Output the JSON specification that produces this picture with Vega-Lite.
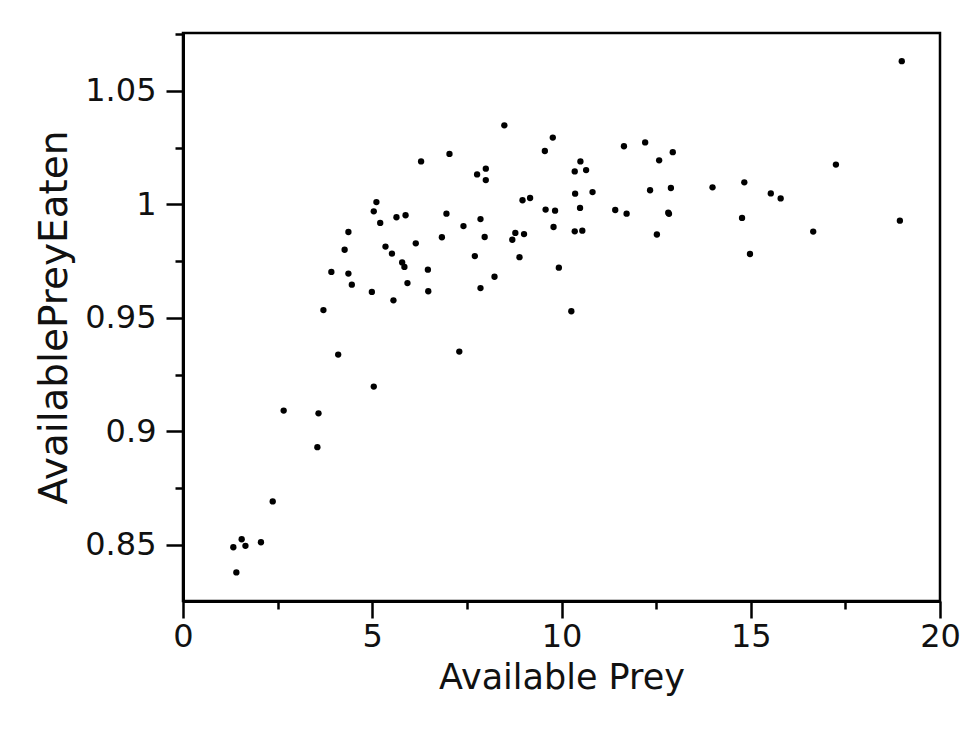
{
  "$schema": "https://vega.github.io/schema/vega-lite/v6.json",
  "autosize": "none",
  "width": 757,
  "height": 568,
  "padding": {"left": 183, "top": 33, "right": 27, "bottom": 129},
  "background": "white",
  "config": {
    "view": {"stroke": "black", "strokeWidth": 2.5},
    "font": "DejaVu Sans",
    "axis": {
      "domainColor": "black",
      "domainWidth": 3,
      "tickColor": "black",
      "tickWidth": 2.5,
      "labelColor": "#111111",
      "titleColor": "#111111",
      "labelFont": "DejaVu Sans",
      "titleFont": "DejaVu Sans",
      "labelFontSize": 32,
      "titleFontSize": 35,
      "titleFontWeight": "normal",
      "grid": false,
      "labelOverlap": false,
      "labelFlush": false
    }
  },
  "data": {
    "values": [
      {"prey": 8.49, "eaten": 1.0348},
      {"prey": 9.77, "eaten": 1.0294},
      {"prey": 9.56, "eaten": 1.0235},
      {"prey": 6.29, "eaten": 1.0189},
      {"prey": 7.04, "eaten": 1.0222},
      {"prey": 8.0, "eaten": 1.0157},
      {"prey": 7.77, "eaten": 1.0132},
      {"prey": 8.0, "eaten": 1.0107},
      {"prey": 10.5, "eaten": 1.0189},
      {"prey": 10.35, "eaten": 1.0145},
      {"prey": 10.65, "eaten": 1.0151},
      {"prey": 10.36, "eaten": 1.0047},
      {"prey": 10.82, "eaten": 1.0054},
      {"prey": 8.97, "eaten": 1.0018},
      {"prey": 9.17, "eaten": 1.0028},
      {"prey": 5.11, "eaten": 1.001},
      {"prey": 5.04, "eaten": 0.9969},
      {"prey": 5.21, "eaten": 0.9918},
      {"prey": 5.64, "eaten": 0.9943},
      {"prey": 5.88, "eaten": 0.9952},
      {"prey": 6.96, "eaten": 0.9959},
      {"prey": 7.86, "eaten": 0.9935},
      {"prey": 7.41, "eaten": 0.9904},
      {"prey": 9.58, "eaten": 0.9977},
      {"prey": 9.83, "eaten": 0.9972},
      {"prey": 10.49, "eaten": 0.9984},
      {"prey": 9.79, "eaten": 0.99},
      {"prey": 10.35, "eaten": 0.9881},
      {"prey": 10.55, "eaten": 0.9884},
      {"prey": 4.37, "eaten": 0.9878},
      {"prey": 4.27, "eaten": 0.98},
      {"prey": 5.35, "eaten": 0.9814},
      {"prey": 5.52, "eaten": 0.9783},
      {"prey": 6.15, "eaten": 0.9828},
      {"prey": 6.84, "eaten": 0.9855},
      {"prey": 7.97, "eaten": 0.9856},
      {"prey": 8.78, "eaten": 0.9874},
      {"prey": 8.7, "eaten": 0.9844},
      {"prey": 9.01, "eaten": 0.9869},
      {"prey": 7.71, "eaten": 0.9772},
      {"prey": 8.89, "eaten": 0.9767},
      {"prey": 5.79, "eaten": 0.9744},
      {"prey": 5.85, "eaten": 0.9724},
      {"prey": 3.92, "eaten": 0.9702},
      {"prey": 4.37, "eaten": 0.9695},
      {"prey": 4.46, "eaten": 0.9646},
      {"prey": 6.47, "eaten": 0.9712},
      {"prey": 5.93, "eaten": 0.9653},
      {"prey": 4.99, "eaten": 0.9614},
      {"prey": 6.48, "eaten": 0.9617},
      {"prey": 7.86, "eaten": 0.9631},
      {"prey": 8.23, "eaten": 0.9681},
      {"prey": 9.93, "eaten": 0.9721},
      {"prey": 5.56, "eaten": 0.9577},
      {"prey": 3.71, "eaten": 0.9534},
      {"prey": 10.26, "eaten": 0.9529},
      {"prey": 4.1, "eaten": 0.9338},
      {"prey": 7.3, "eaten": 0.9351},
      {"prey": 11.65, "eaten": 1.0256},
      {"prey": 12.21, "eaten": 1.0273},
      {"prey": 12.58, "eaten": 1.0194},
      {"prey": 12.94, "eaten": 1.023},
      {"prey": 12.34, "eaten": 1.0062},
      {"prey": 12.89, "eaten": 1.0072},
      {"prey": 11.42, "eaten": 0.9975},
      {"prey": 11.72, "eaten": 0.9959},
      {"prey": 12.82, "eaten": 0.9963},
      {"prey": 12.84, "eaten": 0.9958},
      {"prey": 12.52, "eaten": 0.9867},
      {"prey": 13.99, "eaten": 1.0075},
      {"prey": 14.83, "eaten": 1.0097},
      {"prey": 15.53, "eaten": 1.0048},
      {"prey": 15.79, "eaten": 1.0026},
      {"prey": 14.77, "eaten": 0.994},
      {"prey": 14.98, "eaten": 0.9781},
      {"prey": 16.65, "eaten": 0.988},
      {"prey": 17.25, "eaten": 1.0175},
      {"prey": 18.94, "eaten": 0.9928},
      {"prey": 18.99, "eaten": 1.0631},
      {"prey": 5.04, "eaten": 0.9197},
      {"prey": 2.66, "eaten": 0.9091},
      {"prey": 3.58, "eaten": 0.9079},
      {"prey": 3.55, "eaten": 0.893},
      {"prey": 2.37, "eaten": 0.8691},
      {"prey": 1.55, "eaten": 0.8524},
      {"prey": 1.33, "eaten": 0.8489},
      {"prey": 1.65, "eaten": 0.8495},
      {"prey": 2.06, "eaten": 0.8511},
      {"prey": 1.41, "eaten": 0.8378}
    ]
  },
  "mark": {"type": "circle", "color": "black", "opacity": 1, "size": 40},
  "encoding": {
    "x": {
      "field": "prey",
      "type": "quantitative",
      "title": "Available Prey",
      "scale": {"domain": [0, 20], "nice": false, "zero": false},
      "axis": {
        "values": [0, 2.5, 5, 7.5, 10, 12.5, 15, 17.5, 20],
        "labelExpr": "datum.value % 5 === 0 ? datum.label : ''",
        "tickSize": {"condition": {"test": "datum.value % 5 === 0", "value": 17}, "value": 8},
        "labelPadding": 3,
        "titlePadding": 8
      }
    },
    "y": {
      "field": "eaten",
      "type": "quantitative",
      "title": "AvailablePreyEaten",
      "scale": {"domain": [0.8252, 1.0755], "nice": false, "zero": false},
      "axis": {
        "values": [0.825, 0.85, 0.875, 0.9, 0.925, 0.95, 0.975, 1, 1.025, 1.05, 1.075],
        "format": "~g",
        "labelExpr": "round(datum.value * 1000) % 50 === 0 ? datum.label : ''",
        "tickSize": {"condition": {"test": "round(datum.value * 1000) % 50 === 0", "value": 17}, "value": 8},
        "labelPadding": 10,
        "titlePadding": 10,
        "titleFontSize": 39
      }
    }
  }
}
